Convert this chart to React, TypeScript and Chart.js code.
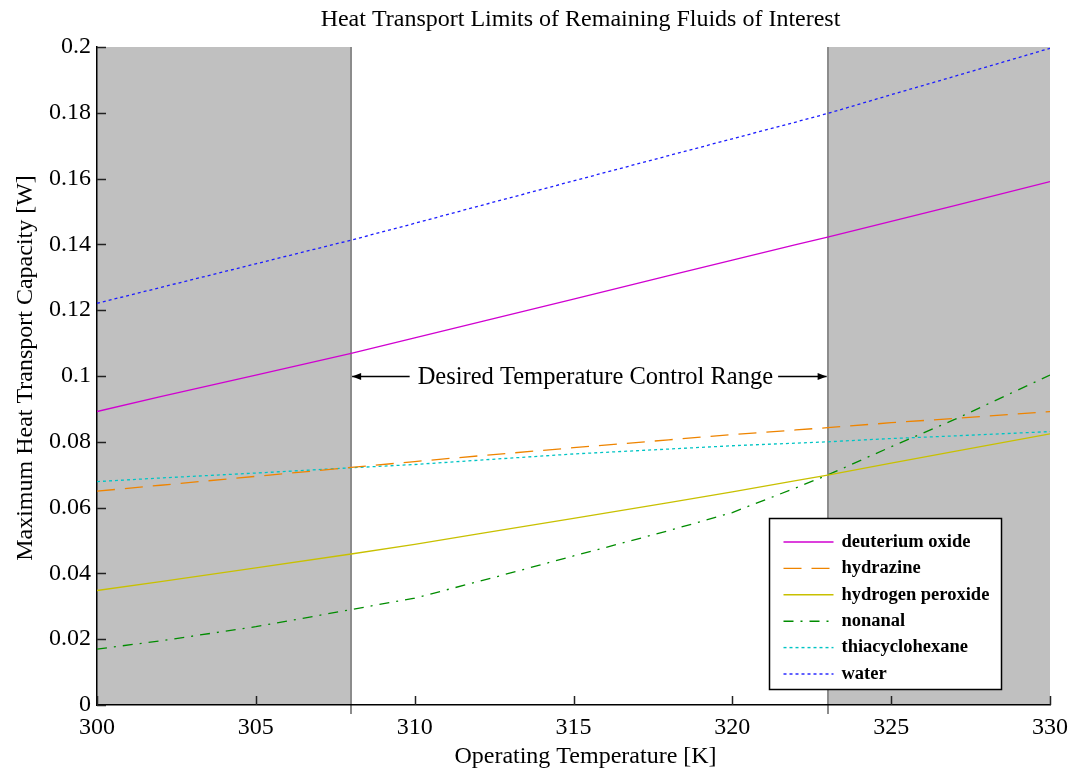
import React, { useEffect, useRef } from 'react';
import { Chart, registerables } from 'chart.js';

Chart.register(...registerables);

const FONT = '"Liberation Serif", "Times New Roman", serif';

// ---- data ----
const temperatures = [300, 302, 305, 308, 310, 312, 315, 318, 320, 322, 323, 325, 327, 330];
const deuteriumOxide = [0.0892, 0.0937, 0.1003, 0.1069, 0.1116, 0.1163, 0.1234, 0.1305, 0.1352, 0.1399, 0.1422, 0.147, 0.1518, 0.1591];
const hydrazine = [0.065, 0.0668, 0.0695, 0.0722, 0.074, 0.0757, 0.0782, 0.0806, 0.0822, 0.0836, 0.0843, 0.0858, 0.0871, 0.0892];
const hydrogenPeroxide = [0.0348, 0.0375, 0.0417, 0.0459, 0.0488, 0.052, 0.0567, 0.0615, 0.0648, 0.0682, 0.0699, 0.0735, 0.0771, 0.0824];
const nonanal = [0.017, 0.0195, 0.0238, 0.029, 0.0325, 0.0375, 0.0453, 0.053, 0.0585, 0.066, 0.0699, 0.0785, 0.0868, 0.1003];
const thiacyclohexane = [0.0679, 0.069, 0.0705, 0.0721, 0.0731, 0.0744, 0.0763, 0.0778, 0.0788, 0.0796, 0.08, 0.081, 0.0818, 0.0831];
const water = [0.1221, 0.1269, 0.1341, 0.1413, 0.1464, 0.1516, 0.1593, 0.167, 0.1721, 0.1772, 0.1798, 0.1855, 0.1911, 0.1996];

const seriesNames = ['deuterium oxide', 'hydrazine', 'hydrogen peroxide', 'nonanal', 'thiacyclohexane', 'water'];
const seriesValues = [deuteriumOxide, hydrazine, hydrogenPeroxide, nonanal, thiacyclohexane, water];
const seriesColors = ['#d000d0', '#ee8400', '#c8c000', '#008c00', '#00c4c4', '#1c1cff'];
const seriesDashes: number[][] = [[], [18, 10], [], [10, 7, 2, 7], [3, 3], [3, 3]];

const xTicks = [300, 305, 310, 315, 320, 325, 330];
const yTicks = [0, 0.02, 0.04, 0.06, 0.08, 0.1, 0.12, 0.14, 0.16, 0.18, 0.2];
const shadedRanges = [[300, 308], [323, 330]];
const controlRange = [308, 323];
const annotationValue = 0.1;
const annotationText = 'Desired Temperature Control Range';
const chartTitle = 'Heat Transport Limits of Remaining Fluids of Interest';
const xTitle = 'Operating Temperature [K]';
const yTitle = 'Maximum Heat Transport Capacity [W]';

const decorPlugin = {
  id: 'decor',
  beforeDraw(chart: any) {
    const { ctx, chartArea: a, scales } = chart;
    const x = scales.x;
    ctx.save();
    ctx.fillStyle = '#c0c0c0';
    for (const [lo, hi] of shadedRanges) {
      const x0 = x.getPixelForValue(lo);
      const x1 = x.getPixelForValue(hi);
      ctx.fillRect(x0, a.top, x1 - x0, a.bottom - a.top);
    }
    ctx.strokeStyle = '#8c8c8c';
    ctx.lineWidth = 2;
    for (const v of controlRange) {
      const px = Math.round(x.getPixelForValue(v));
      ctx.beginPath();
      ctx.moveTo(px, a.top);
      ctx.lineTo(px, a.bottom + 9);
      ctx.stroke();
    }
    ctx.restore();
  },
  afterDraw(chart: any) {
    const { ctx, chartArea: a, scales } = chart;
    const x = scales.x;
    const y = scales.y;
    ctx.save();

    // chart title and axis titles
    ctx.fillStyle = '#000';
    ctx.textAlign = 'center';
    ctx.textBaseline = 'middle';
    ctx.font = `24px ${FONT}`;
    ctx.fillText(chartTitle, (a.left + a.right) / 2 + 7, 20);
    ctx.fillText(xTitle, (a.left + a.right) / 2 + 12, 757);
    ctx.save();
    ctx.translate(26, (a.top + a.bottom) / 2 - 8);
    ctx.rotate(-Math.PI / 2);
    ctx.fillText(yTitle, 0, 0);
    ctx.restore();

    // inward tick marks
    ctx.strokeStyle = '#222';
    ctx.lineWidth = 1.5;
    for (const t of xTicks) {
      const px = Math.round(x.getPixelForValue(t)) + 0.5;
      ctx.beginPath();
      ctx.moveTo(px, a.bottom);
      ctx.lineTo(px, a.bottom - 9);
      ctx.stroke();
    }
    for (const t of yTicks) {
      const py = Math.round(y.getPixelForValue(t)) + 0.5;
      ctx.beginPath();
      ctx.moveTo(a.left, py);
      ctx.lineTo(a.left + 9, py);
      ctx.stroke();
    }

    // annotation with arrows
    const xl = x.getPixelForValue(controlRange[0]) + 1;
    const xr = x.getPixelForValue(controlRange[1]) - 1;
    const ay = Math.round(y.getPixelForValue(annotationValue)) + 0.5;
    ctx.font = `24.5px ${FONT}`;
    ctx.fillStyle = '#000';
    ctx.textAlign = 'center';
    ctx.textBaseline = 'middle';
    const cx = (xl + xr) / 2 + 6;
    const tw = ctx.measureText(annotationText).width;
    ctx.fillText(annotationText, cx, ay + 1);
    ctx.strokeStyle = '#000';
    ctx.lineWidth = 1.3;
    const t0 = cx - tw / 2 - 8;
    const t1 = cx + tw / 2 + 5;
    ctx.beginPath();
    ctx.moveTo(xl, ay);
    ctx.lineTo(t0, ay);
    ctx.moveTo(t1, ay);
    ctx.lineTo(xr, ay);
    ctx.stroke();
    ctx.beginPath();
    ctx.moveTo(xl, ay);
    ctx.lineTo(xl + 9, ay - 3.5);
    ctx.lineTo(xl + 9, ay + 3.5);
    ctx.closePath();
    ctx.moveTo(xr, ay);
    ctx.lineTo(xr - 9, ay - 3.5);
    ctx.lineTo(xr - 9, ay + 3.5);
    ctx.closePath();
    ctx.fill();

    // legend box
    const bw = 232;
    const bh = 171;
    const bx = Math.round(a.right - 281) + 0.5;
    const by = Math.round(a.bottom - 187) + 0.5;
    ctx.fillStyle = '#fff';
    ctx.fillRect(bx, by, bw, bh);
    ctx.strokeStyle = '#000';
    ctx.lineWidth = 1.5;
    ctx.strokeRect(bx, by, bw, bh);
    ctx.font = `bold 18.5px ${FONT}`;
    ctx.textAlign = 'left';
    ctx.textBaseline = 'middle';
    chart.data.datasets.forEach((ds: any, i: number) => {
      const ry = by + 23.5 + i * 26.4;
      ctx.strokeStyle = ds.borderColor;
      ctx.lineWidth = 1.4;
      ctx.setLineDash(ds.borderDash || []);
      ctx.beginPath();
      ctx.moveTo(bx + 14, ry);
      ctx.lineTo(bx + 64, ry);
      ctx.stroke();
      ctx.setLineDash([]);
      ctx.fillStyle = '#000';
      ctx.fillText(ds.label, bx + 72, ry);
    });
    ctx.restore();
  },
};

export default function App() {
  const canvasRef = useRef<HTMLCanvasElement | null>(null);

  useEffect(() => {
    const canvas = canvasRef.current;
    if (!canvas) return;
    const datasets = seriesNames.map((name, i) => ({
      label: name,
      data: temperatures.map((t, j) => ({ x: t, y: seriesValues[i][j] })),
      borderColor: seriesColors[i],
      backgroundColor: seriesColors[i],
      borderDash: seriesDashes[i],
      borderWidth: 1.3,
      pointRadius: 0,
      tension: 0,
      fill: false,
    }));

    const chart = new Chart(canvas, {
      type: 'line',
      data: { datasets },
      options: {
        responsive: false,
        animation: false,
        devicePixelRatio: 1,
        layout: { padding: { left: 0, right: 24, top: 47, bottom: 0 } },
        plugins: {
          legend: { display: false },
          tooltip: { enabled: false },
          title: { display: false },
        },
        scales: {
          x: {
            type: 'linear',
            min: 300,
            max: 330,
            afterFit: (s: any) => {
              s.height = 69;
              s.paddingLeft = 0;
              s.paddingRight = 0;
            },
            afterBuildTicks: (s: any) => { s.ticks = xTicks.map((v) => ({ value: v })); },
            ticks: {
              color: '#000',
              font: { family: FONT, size: 24 },
              padding: 8,
              maxRotation: 0,
              autoSkip: false,
              callback: (v: any) => String(v),
            },
            grid: { display: false, drawTicks: false },
            border: { display: true, color: '#000', width: 1.5 },
            title: { display: false },
          },
          y: {
            type: 'linear',
            min: 0,
            max: 0.2,
            afterFit: (s: any) => {
              s.width = 97;
              s.paddingTop = 0;
              s.paddingBottom = 0;
            },
            afterBuildTicks: (s: any) => { s.ticks = yTicks.map((v) => ({ value: v })); },
            ticks: {
              color: '#000',
              font: { family: FONT, size: 24 },
              padding: 6,
              autoSkip: false,
              callback: (v: any) => String(Number(Number(v).toFixed(2))),
            },
            grid: { display: false, drawTicks: false },
            border: { display: true, color: '#000', width: 1.5 },
            title: { display: false },
          },
        },
      },
      plugins: [decorPlugin],
    } as any);

    return () => chart.destroy();
  }, []);

  return (
    <div style={{ position: 'absolute', left: 0, top: 0, width: 1074, height: 774, background: '#fff' }}>
      <canvas ref={canvasRef} width={1074} height={774} style={{ display: 'block', width: 1074, height: 774 }} />
    </div>
  );
}
